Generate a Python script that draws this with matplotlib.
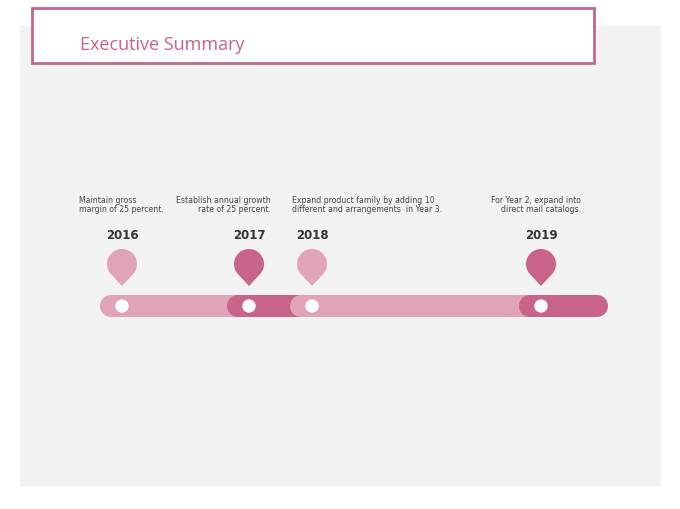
import matplotlib
matplotlib.use("Agg")
import matplotlib.pyplot as plt
from matplotlib.patches import Rectangle, Circle, Polygon
import numpy as np

years = ["2016", "2017", "2018", "2019"]
notes = ["Maintain gross\nmargin of 25 percent.",
         "Establish annual growth\nrate of 25 percent.",
         "Expand product family by adding 10\ndifferent and arrangements  in Year 3.",
         "For Year 2, expand into\ndirect mail catalogs."]
note_ha = ["left", "right", "left", "right"]
note_x = [79, 271, 292, 581]
marks = [122, 249, 312, 541]
seg_end = [270, 320, 560, 608]

light = "#e0a3b8"
dark = "#c8638a"
colors = [light, dark, light, dark]

fig = plt.figure(figsize=(6.8, 5.1), dpi=100)
ax = fig.add_axes([0, 0, 1, 1])
ax.set_xlim(0, 680)
ax.set_ylim(510, 0)
ax.axis("off")

ax.add_patch(Rectangle((20, 27), 640, 459, color="#f2f2f2", zorder=0))
ax.add_patch(Rectangle((32, 9), 562, 55, facecolor="white", edgecolor="#c0678e", lw=2, zorder=1))
ax.text(80, 45, "Executive Summary", color="#c8618a", fontsize=13, va="center", ha="left",
        family="Open Sans")

h = 22
bar_y = 307
for i, x in enumerate(marks):
    x0 = x - 11
    z = 2 + i
    # rounded bar: rectangle with two round caps
    ax.add_patch(Rectangle((x0, bar_y - h / 2), seg_end[i] - h / 2 - x0, h,
                           facecolor=colors[i], edgecolor="none", zorder=z))
    ax.add_patch(Circle((x0, bar_y), h / 2, facecolor=colors[i], edgecolor="none", zorder=z))
    ax.add_patch(Circle((seg_end[i] - h / 2, bar_y), h / 2, facecolor=colors[i],
                        edgecolor="none", zorder=z))
    ax.add_patch(Circle((x, bar_y), 6, color="white", zorder=z + 0.5))

    # pin
    cx, cy, r, d = x, 265, 15, 22
    a = np.arccos(r / d)
    ang = np.linspace(np.pi / 2 + a, np.pi / 2 + 2 * np.pi - a, 80)
    pts = [(cx + r * np.cos(t), cy + r * np.sin(t)) for t in ang]
    pts.append((cx, cy + d))
    ax.add_patch(Polygon(pts, closed=True, facecolor=colors[i], edgecolor="none", zorder=10))

    ax.text(x, 236, years[i], ha="center", va="center", fontsize=8.5, fontweight="bold",
            color="#333333")
    ax.text(note_x[i], 205, notes[i], ha=note_ha[i], va="center", fontsize=5.6,
            color="#444444", linespacing=1.1, multialignment=note_ha[i])

fig.savefig("out.png", dpi=100)
